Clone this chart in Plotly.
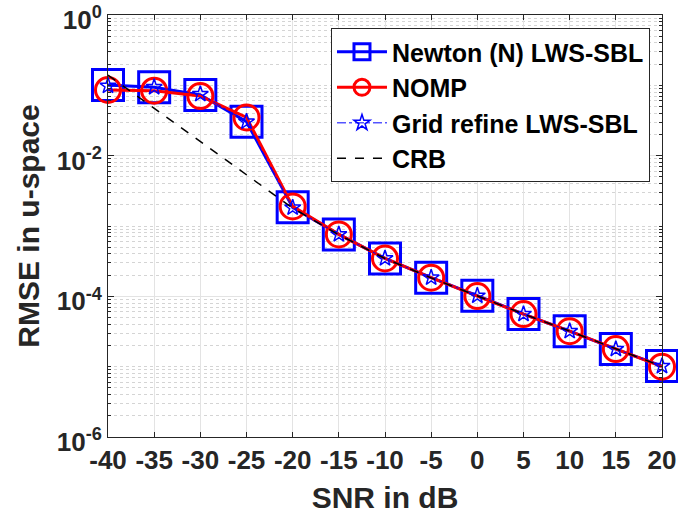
import plotly.graph_objects as go

snr = [-40, -35, -30, -25, -20, -15, -10, -5, 0, 5, 10, 15, 20]
newton = [0.101, 0.094, 0.0728, 0.0304, 1.84e-3, 7.6e-4, 3.46e-4, 1.84e-4, 1.02e-4, 5.6e-5, 3.2e-5, 1.78e-5, 1.02e-5]
nomp = [0.086, 0.084, 0.0705, 0.035, 1.9e-3, 7.6e-4, 3.46e-4, 1.84e-4, 1.01e-4, 5.6e-5, 3.2e-5, 1.78e-5, 1.0e-5]
gridref = [0.098, 0.094, 0.075, 0.0304, 1.82e-3, 7.6e-4, 3.46e-4, 1.84e-4, 1.02e-4, 5.6e-5, 3.2e-5, 1.78e-5, 1.02e-5]
crb = [0.14, 0.047, 0.0159, 5.33e-3, 1.8e-3, 7.5e-4, 3.45e-4, 1.83e-4, 1.01e-4, 5.6e-5, 3.2e-5, 1.78e-5, 1.01e-5]

xticks = [-40, -35, -30, -25, -20, -15, -10, -5, 0, 5, 10, 15, 20]
yticks = [1e-6, 1e-4, 1e-2, 1e0]
yticktext = ["10<sup>-6</sup>", "10<sup>-4</sup>", "10<sup>-2</sup>", "10<sup>0</sup>"]

minor_y = []
for e in range(-6, 0):
    for k in range(1, 10):
        if k == 1 and e % 2 == 0:
            continue
        minor_y.append(k * 10.0 ** e)

FONT = "Liberation Sans, Arial, Helvetica, sans-serif"
AX = "#262626"

fig = go.Figure()
fig.add_trace(go.Scatter(
    x=snr, y=newton, name="Newton (N) LWS-SBL", mode="lines+markers", cliponaxis=False,
    line=dict(color="#0000ff", width=3),
    marker=dict(symbol="square-open", size=31, color="#0000ff", line=dict(width=3, color="#0000ff")),
))
fig.add_trace(go.Scatter(
    x=snr, y=nomp, name="NOMP", mode="lines+markers", cliponaxis=False,
    line=dict(color="#ff0000", width=3),
    marker=dict(symbol="circle-open", size=25, color="#ff0000", line=dict(width=3, color="#ff0000")),
))
fig.add_trace(go.Scatter(
    x=snr, y=gridref, name="Grid refine LWS-SBL", mode="lines+markers", cliponaxis=False,
    line=dict(color="#0000ff", width=1, dash="dashdot"),
    marker=dict(symbol="star-open", size=12, color="#0000ff", line=dict(width=1.5, color="#0000ff")),
))
fig.add_trace(go.Scatter(
    x=snr, y=crb, name="CRB", mode="lines", cliponaxis=False,
    line=dict(color="#000000", width=1.5, dash="dash"),
))

fig.update_layout(
    width=678, height=520,
    margin=dict(l=108, r=16, t=15, b=83),
    paper_bgcolor="white", plot_bgcolor="white",
    font=dict(family=FONT, size=26, color=AX, weight="bold"),
    showlegend=True,
    legend=dict(
        x=0.4025, y=0.969, xanchor="left", yanchor="top",
        bgcolor="white", bordercolor=AX, borderwidth=1,
        font=dict(family=FONT, size=25, color="black", weight="bold"),
        itemwidth=50, itemsizing="trace",
    ),
)
fig.update_xaxes(
    range=[-40, 20], tickvals=xticks, ticktext=[str(v) for v in xticks],
    automargin=False, ticklabeloverflow="allow",
    showline=True, linecolor=AX, linewidth=1, mirror="ticks",
    ticks="inside", ticklen=5, tickcolor=AX,
    showgrid=True, gridcolor="#e3e3e3", gridwidth=1, zeroline=False,
    title=dict(text="SNR in dB", font=dict(size=30, weight="bold", color=AX), standoff=12),
)
fig.update_yaxes(
    type="log", range=[-6, 0], tickvals=yticks, ticktext=yticktext,
    automargin=False, ticklabeloverflow="allow", ticklabelshift=5,
    showline=True, linecolor=AX, linewidth=1, mirror="ticks",
    ticks="inside", ticklen=6, tickcolor=AX,
    showgrid=True, gridcolor="#e3e3e3", gridwidth=1, zeroline=False,
    minor=dict(tickmode="array", tickvals=minor_y, ticks="inside", ticklen=3, tickcolor=AX,
               showgrid=True, gridcolor="#d4d4d4", griddash="dot", gridwidth=1),
    title=dict(text="RMSE in u-space", font=dict(size=30, weight="bold", color=AX), standoff=8),
)
fig.write_html(
    "out.html",
    config={"displayModeBar": False},
    post_script="document.body.style.margin='0px';document.body.style.overflow='hidden';",
)
